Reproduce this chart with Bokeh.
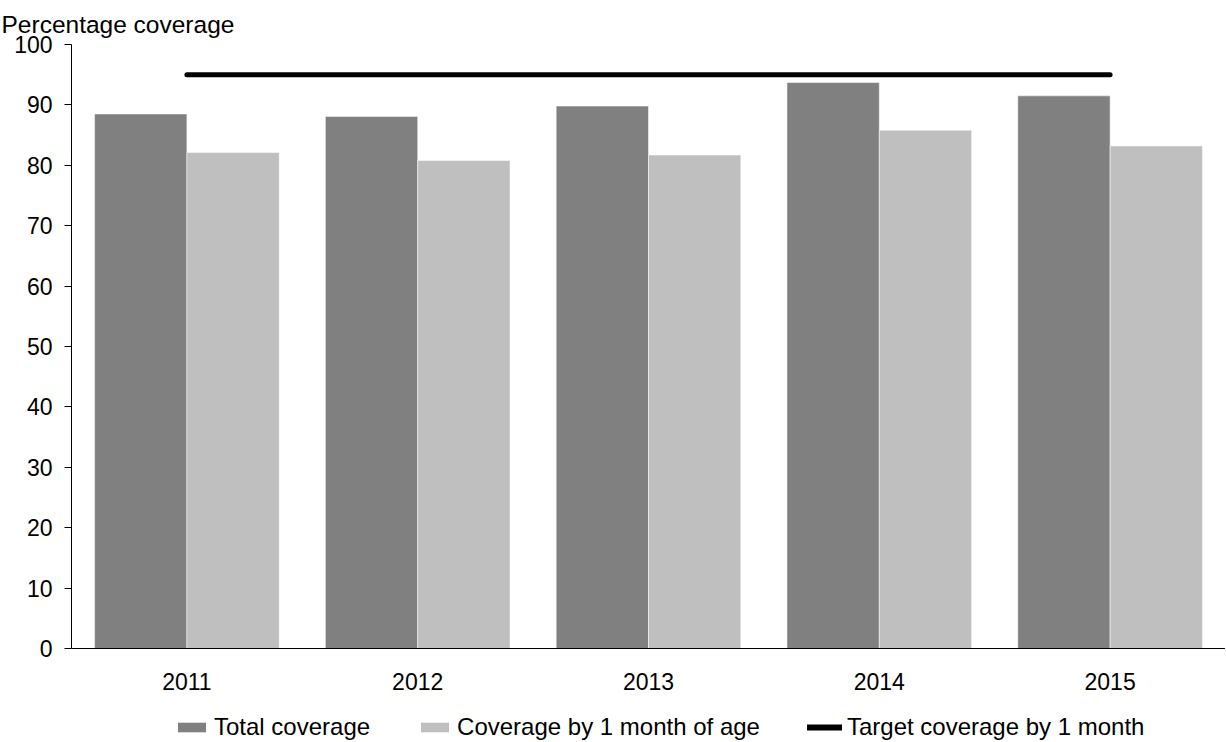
from bokeh.plotting import figure
from bokeh.layouts import column
from bokeh.models import ColumnDataSource, Range1d, Legend, LegendItem
from bokeh.transform import dodge
from bokeh.embed import file_html
from bokeh.resources import INLINE

years = ["2011", "2012", "2013", "2014", "2015"]
total_coverage = [88.5, 88.1, 89.8, 93.7, 91.5]
coverage_1_month = [82.1, 80.8, 81.7, 85.8, 83.2]
target_coverage = [95, 95, 95, 95, 95]
y_ticks = [0, 10, 20, 30, 40, 50, 60, 70, 80, 90, 100]
series_names = ["Total coverage", "Coverage by 1 month of age", "Target coverage by 1 month"]

FONT = "Liberation Sans"
DARK = "#808080"
LIGHT = "#bfbfbf"

source = ColumnDataSource(dict(year=years, total=total_coverage,
                               month=coverage_1_month, target=target_coverage))

p = figure(x_range=years, y_range=Range1d(0, 100),
           frame_width=1154, frame_height=604,
           output_backend="svg", toolbar_location=None,
           min_border_left=71, min_border_right=0, min_border_top=44,
           min_border_bottom=60)

p.vbar(x=dodge("year", -0.2, range=p.x_range), top="total", width=0.4,
       source=source, fill_color=DARK, line_color="white", line_width=0.5)
p.vbar(x=dodge("year", 0.2, range=p.x_range), top="month", width=0.4,
       source=source, fill_color=LIGHT, line_color="white", line_width=0.5)
p.line(x="year", y="target", source=source, line_color="black",
       line_width=5, line_cap="round")

p.title.text = "Percentage coverage"
p.title.align = "left"
p.title.vertical_align = "top"
p.title.offset = -70
p.title.text_font = FONT
p.title.text_font_size = "24.5px"
p.title.text_font_style = "normal"
p.title.text_color = "black"
p.title.standoff = 10

p.xgrid.visible = False
p.ygrid.visible = False
p.outline_line_color = None

p.yaxis.ticker = y_ticks
p.yaxis.axis_line_color = "black"
p.yaxis.major_tick_out = 7
p.yaxis.major_tick_in = 0
p.yaxis.minor_tick_line_color = None
p.yaxis.major_label_text_font = FONT
p.yaxis.major_label_text_font_size = "23px"
p.yaxis.major_label_text_color = "black"
p.yaxis.major_label_standoff = 12

p.xaxis.axis_line_color = "black"
p.xaxis.major_tick_line_color = None
p.xaxis.minor_tick_line_color = None
p.xaxis.major_label_text_font = FONT
p.xaxis.major_label_text_font_size = "23px"
p.xaxis.major_label_text_color = "black"
p.xaxis.major_label_standoff = 18

# legend strip below the chart (same series, drawn out of view; only the legend shows)
lf = figure(width=1225, height=34, x_range=p.x_range, y_range=Range1d(200, 201),
            x_axis_type=None, y_axis_type=None, output_backend="svg",
            toolbar_location=None, min_border=0)
lf.outline_line_color = None
lf.xgrid.visible = False
lf.ygrid.visible = False
g1 = lf.vbar(x=dodge("year", -0.2, range=lf.x_range), top="total", width=0.4,
             source=source, fill_color=DARK, line_color=None)
g2 = lf.vbar(x=dodge("year", 0.2, range=lf.x_range), top="month", width=0.4,
             source=source, fill_color=LIGHT, line_color=None)
g3 = lf.line(x="year", y="target", source=source, line_color="black",
             line_width=6, line_cap="round")

legend = Legend(items=[LegendItem(label=series_names[0], renderers=[g1]),
                       LegendItem(label=series_names[1], renderers=[g2]),
                       LegendItem(label=series_names[2], renderers=[g3])],
                orientation="horizontal", location=(103, 1))
legend.label_text_font = FONT
legend.label_text_font_size = "24px"
legend.label_text_color = "black"
legend.glyph_width = 35
legend.glyph_height = 12
legend.label_standoff = 5
legend.spacing = 47
legend.border_line_color = None
legend.background_fill_alpha = 0
legend.padding = 2
legend.margin = 0
lf.add_layout(legend, "center")

layout = column(p, lf, spacing=0)
open("out.html", "w").write(file_html(layout, INLINE))
